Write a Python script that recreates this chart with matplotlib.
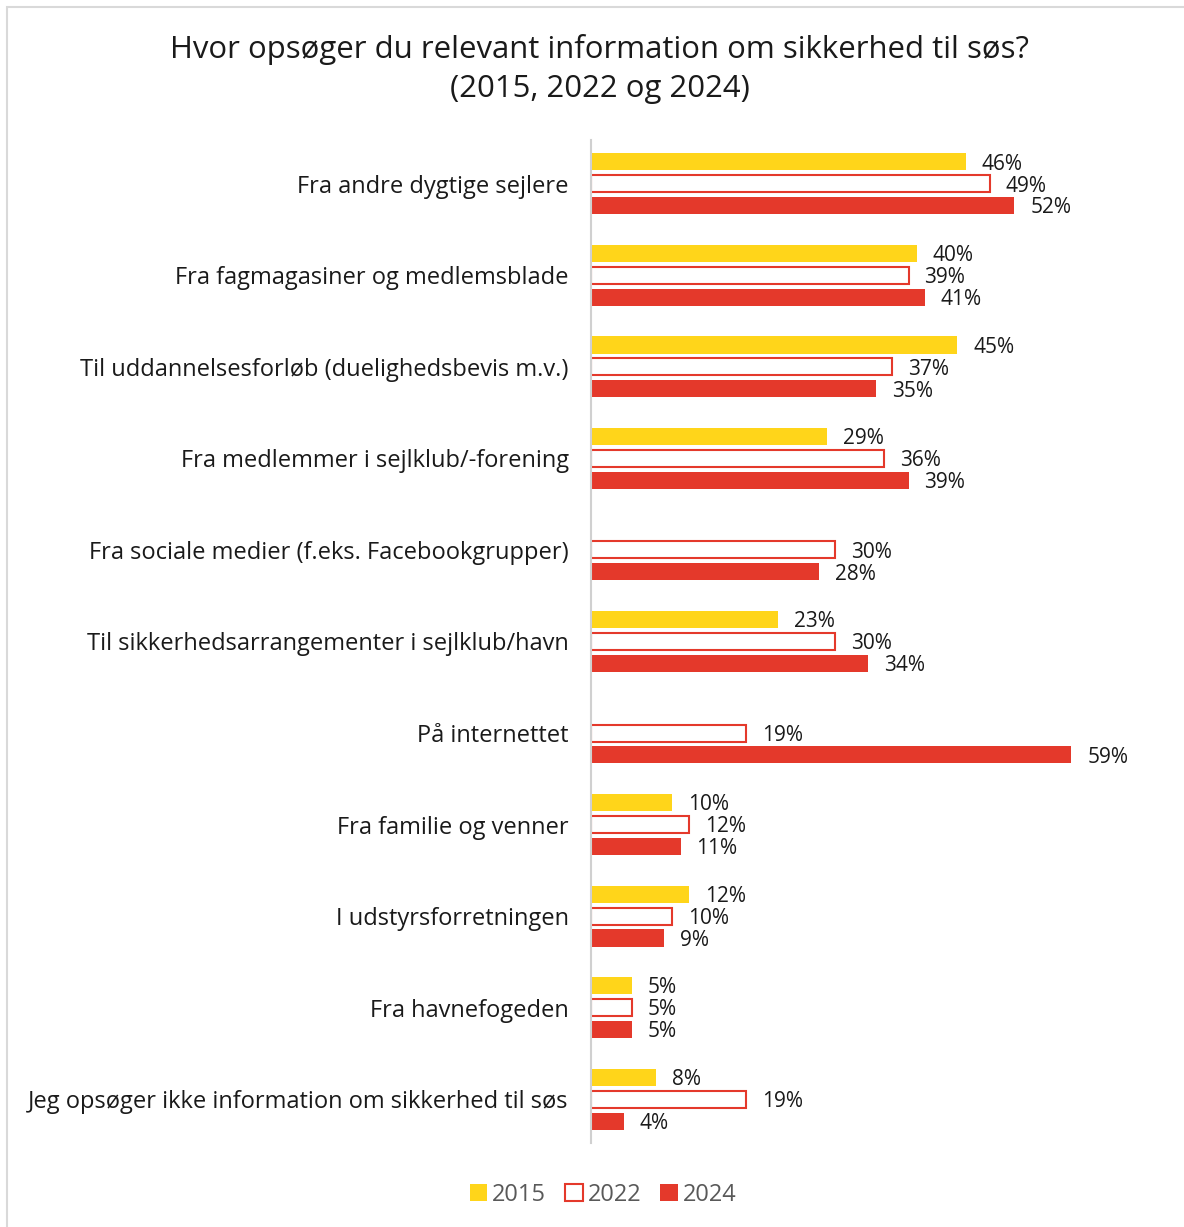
import matplotlib
matplotlib.use("Agg")
import matplotlib.pyplot as plt
from matplotlib.patches import Rectangle
import numpy as np

plt.rcParams["font.family"] = ["Open Sans", "DejaVu Sans"]

categories = [
    "Fra andre dygtige sejlere",
    "Fra fagmagasiner og medlemsblade",
    "Til uddannelsesforløb (duelighedsbevis m.v.)",
    "Fra medlemmer i sejlklub/-forening",
    "Fra sociale medier (f.eks. Facebookgrupper)",
    "Til sikkerhedsarrangementer i sejlklub/havn",
    "På internettet",
    "Fra familie og venner",
    "I udstyrsforretningen",
    "Fra havnefogeden",
    "Jeg opsøger ikke information om sikkerhed til søs",
]
v2015 = [46, 40, 45, 29, None, 23, None, 10, 12, 5, 8]
v2022 = [49, 39, 37, 36, 30, 30, 19, 12, 10, 5, 19]
v2024 = [52, 41, 35, 39, 28, 34, 59, 11, 9, 5, 4]
years = ["2015", "2022", "2024"]

YELLOW = "#FFD51A"
RED = "#E4392B"

fig = plt.figure(figsize=(11.84, 12.27), dpi=100)
fig.patches.append(Rectangle((7 / 1184, -0.01), 1.02, 1 - 7 / 1227 + 0.01,
                             transform=fig.transFigure, fill=False,
                             edgecolor="#d9d9d9", lw=1.5))

ax = fig.add_axes([591 / 1184, 1 - 1143 / 1227, 570 / 1184, 1003 / 1227])

y = np.arange(len(categories))
h = 0.186
off = 0.24
styles = [
    dict(facecolor=YELLOW, edgecolor=YELLOW, linewidth=0),
    dict(facecolor="white", edgecolor=RED, linewidth=1.5),
    dict(facecolor=RED, edgecolor=RED, linewidth=0),
]
for k, (vals, st) in enumerate(zip([v2015, v2022, v2024], styles)):
    for i, v in enumerate(vals):
        if v is None:
            continue
        yy = y[i] + (k - 1) * off
        ax.barh(yy, v, height=h, **st)
        ax.annotate(f"{v}%", (v, yy), xytext=(11.5, -1.5), textcoords="offset points",
                    va="center", ha="left", fontsize=15, color="#1a1a1a")

ax.set_xlim(0, 70)
ax.set_ylim(len(categories) - 0.52, -0.48)
ax.set_yticks(y)
ax.set_yticklabels(categories, fontsize=17, color="#1a1a1a")
ax.tick_params(axis="y", length=0, pad=16)
ax.set_xticks([])
for s in ["top", "right", "bottom"]:
    ax.spines[s].set_visible(False)
ax.spines["left"].set_color("#d0d0d0")
ax.spines["left"].set_linewidth(1.5)

fig.text(600 / 1184, 1 - 69 / 1227,
         "Hvor opsøger du relevant information om sikkerhed til søs?\n(2015, 2022 og 2024)",
         ha="center", va="center", fontsize=22.4, color="#1a1a1a", linespacing=1.4)

handles = [Rectangle((0, 0), 1, 1, **st) for st in styles]
fig.legend(handles, years, loc="center", bbox_to_anchor=(603 / 1184, 1 - 1195 / 1227),
           ncol=3, frameon=False, fontsize=17, labelcolor="#595959",
           handlelength=0.75, handleheight=0.75, handletextpad=0.2, columnspacing=0.8)

fig.savefig("out.png", dpi=100)
